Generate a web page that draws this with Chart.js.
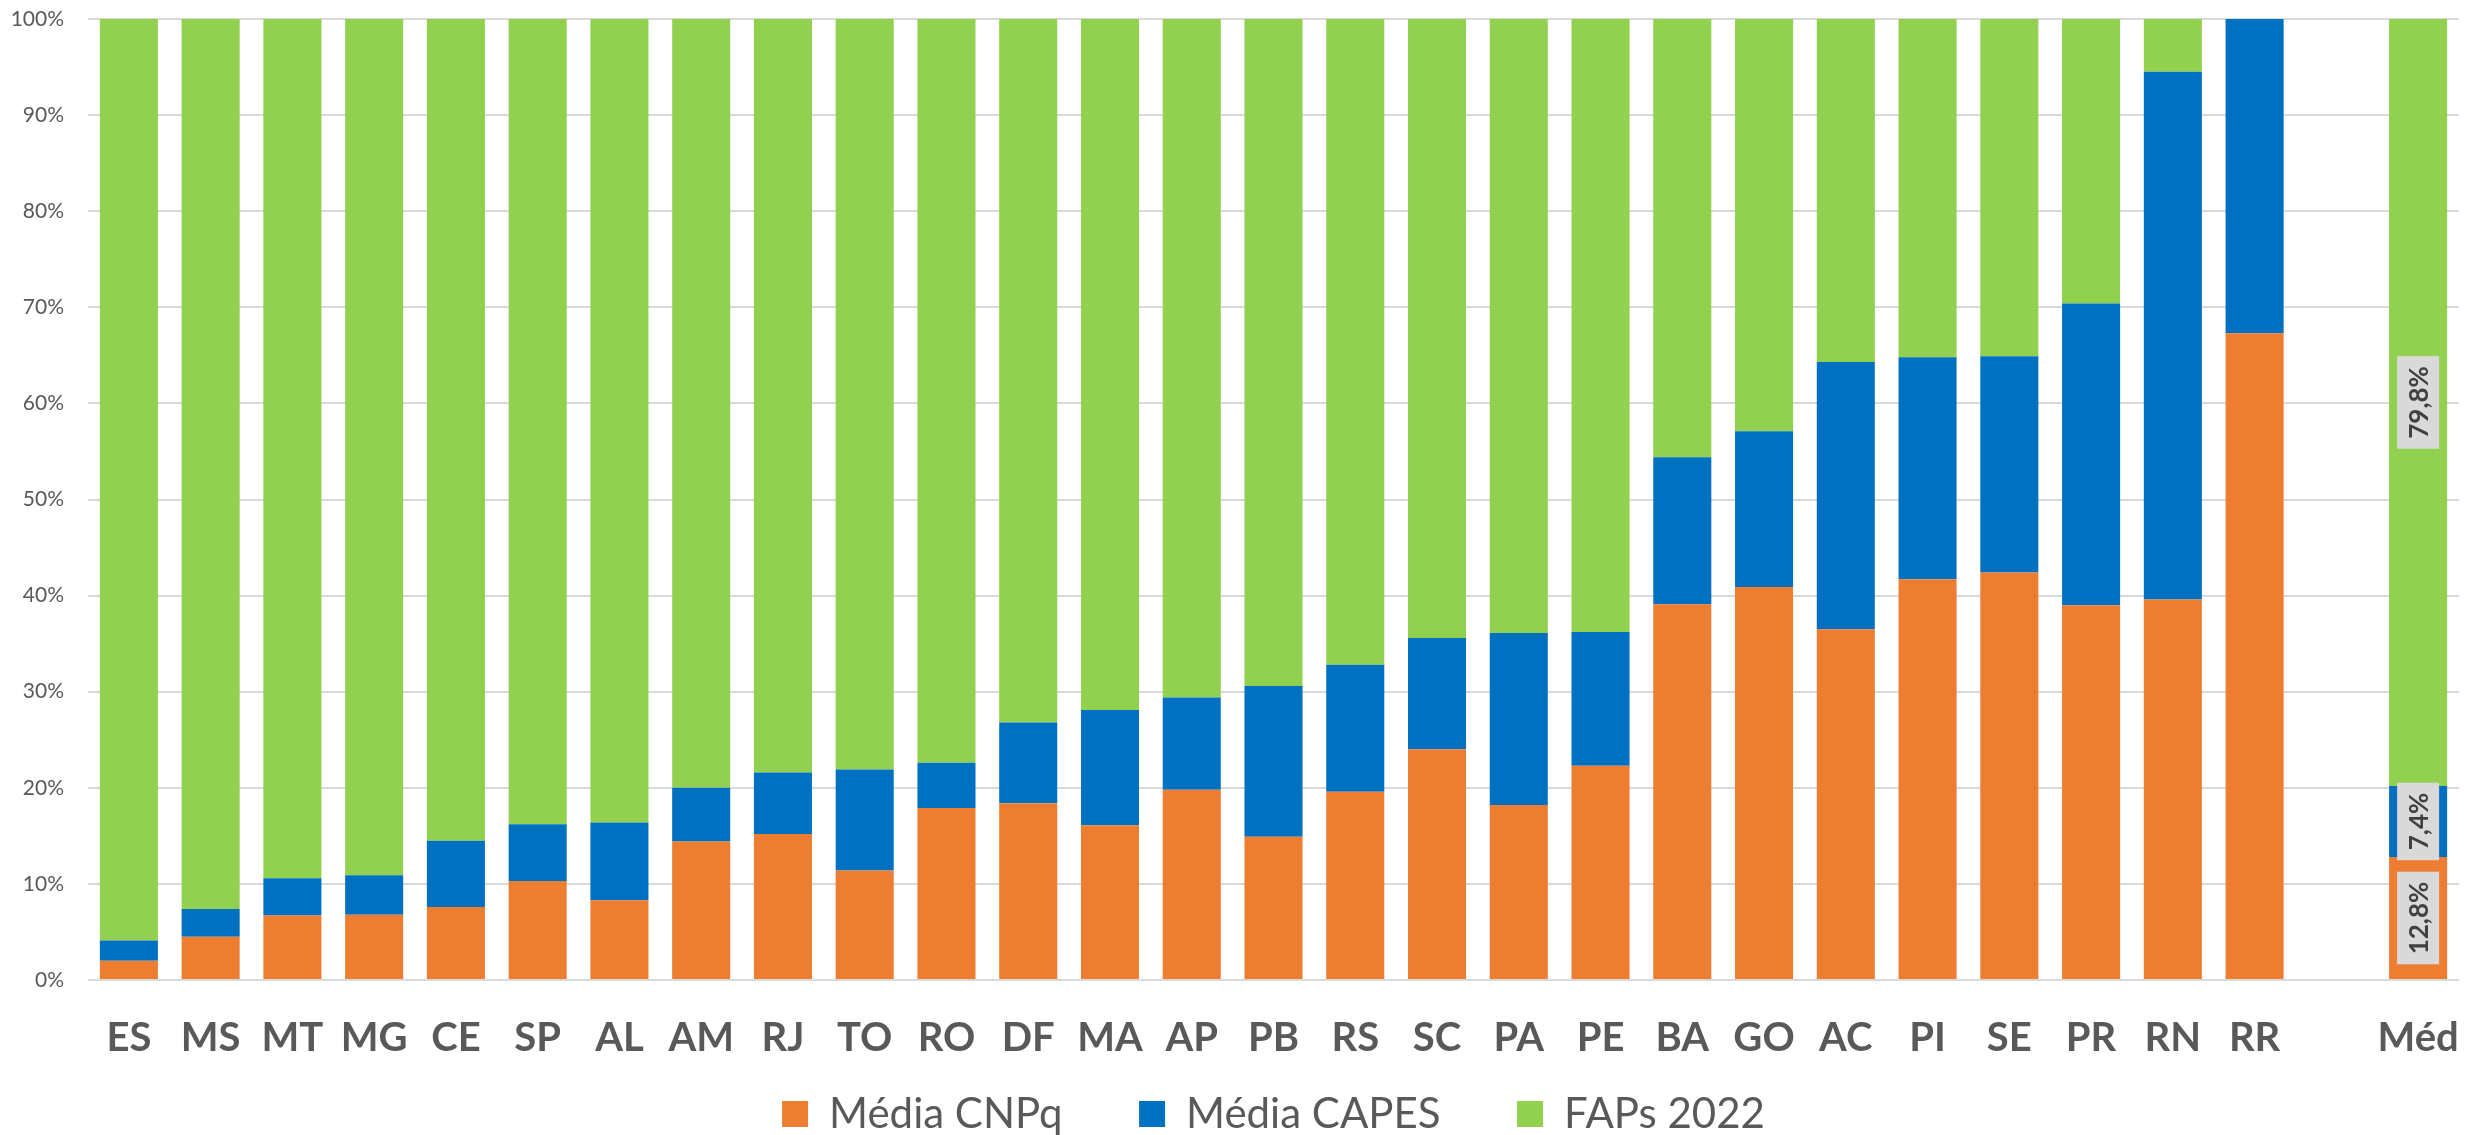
<!DOCTYPE html>
<html lang="pt-BR">
<head>
<meta charset="utf-8">
<title>Média CNPq / CAPES / FAPs 2022</title>
<script src="https://cdn.jsdelivr.net/npm/chart.js"></script>
<style>
  html, body { margin: 0; padding: 0; background: #ffffff; }
  #wrap { width: 2465px; height: 1135px; }
</style>
</head>
<body>
<div id="wrap"><canvas id="shareChart" width="2465" height="1135"></canvas></div>
<script>
// 1. Data (percent of total per state)
const states = ["ES", "MS", "MT", "MG", "CE", "SP", "AL", "AM", "RJ", "TO", "RO", "DF", "MA", "AP",
  "PB", "RS", "SC", "PA", "PE", "BA", "GO", "AC", "PI", "SE", "PR", "RN", "RR", "", "Méd"];

const cnpq = [2.0, 4.5, 6.7, 6.8, 7.6, 10.3, 8.3, 14.4, 15.2, 11.4, 17.9, 18.4, 16.1, 19.8,
  14.9, 19.6, 24.0, 18.2, 22.3, 39.1, 40.9, 36.5, 41.7, 42.4, 39.0, 39.6, 67.3, null, 12.8];

const capes = [2.1, 2.9, 3.9, 4.1, 6.9, 5.9, 8.1, 5.6, 6.4, 10.5, 4.7, 8.4, 12.0, 9.6,
  15.7, 13.2, 11.6, 17.9, 13.9, 15.3, 16.2, 27.8, 23.1, 22.5, 31.4, 54.9, 32.7, null, 7.4];

const faps = [95.9, 92.6, 89.4, 89.1, 85.5, 83.8, 83.6, 80.0, 78.4, 78.1, 77.4, 73.2, 71.9, 70.6,
  69.4, 67.2, 64.4, 63.9, 63.8, 45.6, 42.9, 35.7, 35.2, 35.1, 29.6, 5.5, 0, null, 79.8];

const seriesNames = ["Média CNPq", "Média CAPES", "FAPs 2022"];
const yTicks = [0, 10, 20, 30, 40, 50, 60, 70, 80, 90, 100];

// only the average bar carries value labels
const labelledCategory = "Méd";

document.addEventListener("DOMContentLoaded", () => {
  const FONT = "Lato, 'Open Sans', 'DejaVu Sans', sans-serif";
  const GREY_TEXT = "#595959";
  const NO_COLOR = "rgba(0,0,0,0)";

  // 2. Rotated value labels with a grey box (like Excel data labels)
  const averageLabels = {
    id: "averageLabels",
    afterDatasetsDraw(chart) {
      const idx = chart.data.labels.indexOf(labelledCategory);
      if (idx < 0) return;
      const ctx = chart.ctx;
      ctx.save();
      ctx.font = "bold 26px " + FONT;
      chart.data.datasets.forEach((ds, i) => {
        const bar = chart.getDatasetMeta(i).data[idx];
        const value = ds.data[idx];
        if (!bar || value == null) return;
        const text = value.toFixed(1).replace(".", ",") + "%";
        const cy = (bar.y + bar.base) / 2;
        const tw = ctx.measureText(text).width;
        const boxLen = tw + 20;
        const boxThick = 42;
        ctx.save();
        ctx.translate(bar.x, cy);
        ctx.rotate(-Math.PI / 2);
        ctx.fillStyle = "#d9d9d9";
        ctx.fillRect(-boxLen / 2, -boxThick / 2, boxLen, boxThick);
        ctx.fillStyle = "#404040";
        ctx.textAlign = "center";
        ctx.textBaseline = "middle";
        ctx.fillText(text, 0, 1);
        ctx.restore();
      });
      ctx.restore();
    }
  };

  // 3. Build the chart
  const ctx = document.getElementById("shareChart").getContext("2d");
  const colors = ["#ED7D31", "#0070C0", "#92D050"];
  const values = [cnpq, capes, faps];

  new Chart(ctx, {
    type: "bar",
    data: {
      labels: states,
      datasets: seriesNames.map((name, i) => ({
        label: name,
        data: values[i],
        backgroundColor: colors[i],
        borderWidth: 0,
        barPercentage: 1,
        categoryPercentage: 0.71
      }))
    },
    options: {
      responsive: false,
      animation: false,
      layout: { padding: { top: 19, right: 6, bottom: -10, left: 0 } },
      plugins: {
        tooltip: { enabled: false },
        legend: {
          position: "bottom",
          fullSize: false,
          labels: {
            boxWidth: 26,
            boxHeight: 26,
            padding: 24,
            color: GREY_TEXT,
            font: { family: FONT, size: 42 },
            // wider gaps between the legend entries, as in the original
            generateLabels: (chart) => {
              const items = Chart.defaults.plugins.legend.labels.generateLabels(chart);
              items.forEach((item, i) => {
                if (i < items.length - 1) item.text += "\u2003\u2002";
              });
              return items;
            }
          }
        }
      },
      scales: {
        x: {
          stacked: true,
          grid: { display: true, drawOnChartArea: false, drawTicks: true, tickLength: 34, tickColor: NO_COLOR },
          border: { display: false },
          afterFit: (scale) => { scale.height = 89; },
          ticks: {
            autoSkip: false,
            maxRotation: 0,
            padding: 0,
            color: GREY_TEXT,
            font: { family: FONT, size: 40, weight: "bold" }
          }
        },
        y: {
          stacked: true,
          min: 0,
          max: 100,
          afterFit: (scale) => { scale.width = 88; },
          afterBuildTicks: (scale) => { scale.ticks = yTicks.map(v => ({ value: v })); },
          grid: { color: "#d9d9d9", lineWidth: 2, drawTicks: true, tickLength: 24, tickColor: NO_COLOR },
          border: { display: false },
          ticks: {
            padding: 0,
            color: GREY_TEXT,
            font: { family: FONT, size: 21 },
            callback: (v) => v + "%"
          }
        }
      }
    },
    plugins: [averageLabels]
  });
});
</script>
</body>
</html>
